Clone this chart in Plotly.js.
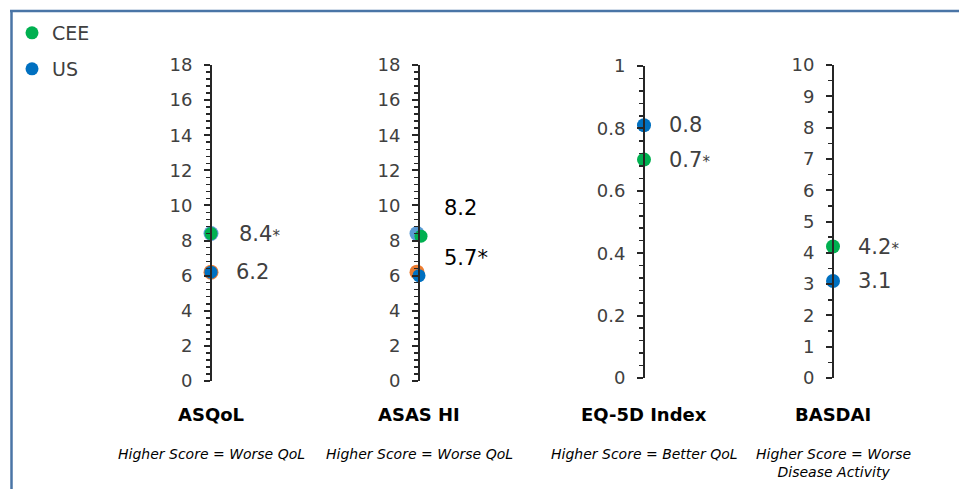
<!DOCTYPE html>
<html>
<head>
<meta charset="utf-8">
<script src="https://cdn.plot.ly/plotly-3.0.1.min.js"></script>
<style>html,body{margin:0;padding:0;background:#fff;}#chart{width:959px;height:489px;}</style>
</head>
<body>
<div id="chart"></div>
<script>
// ---- data ----
var measures = ["ASQoL", "ASAS HI", "EQ-5D Index", "BASDAI"];
var subtitles = ["Higher Score = Worse QoL", "Higher Score = Worse QoL", "Higher Score = Better QoL", "Higher Score = Worse<br>Disease Activity"];
var ceeValues = [8.4, 8.25, 0.70, 4.2];
var usValues = [6.2, 6.0, 0.81, 3.1];
var ceeLabels = ["8.4*", "8.2", "0.7*", "4.2*"];
var usLabels = ["6.2", "5.7*", "0.8", "3.1"];
// hidden series visible only as outlines (from the original slide)
var ghostBlueValues = [8.4, 8.4];
var ghostOrangeValues = [6.2, 6.2];
var axisMax = [18, 18, 1, 10];
var axisDtick = [2, 2, 0.2, 1];
var axisMinor = [0.4, 0.4, 0.04, 0.5];

// ---- style / layout ----
var W = 959, H = 489;
var axisPx = [211, 419, 644, 833];
var topPx = [65, 65, 66, 65];
var botPx = [381, 381, 378, 378];
var green = "#00b050", blue = "#0070c0", ghostBlue = "#5b9bd5", ghostOrange = "#ed7d31";
var gray = "#404040";
var font = "DejaVu Sans, Verdana, sans-serif";

var traces = [];
var layout = {
  width: W, height: H,
  margin: {l: 0, r: 0, t: 0, b: 0, pad: 0},
  paper_bgcolor: "#fff", plot_bgcolor: "rgba(0,0,0,0)",
  showlegend: true,
  font: {family: font, color: gray},
  annotations: [], shapes: [],
  legend: {x: 12/W, y: (H-14)/H, xanchor: "left", yanchor: "top", bgcolor: "rgba(0,0,0,0)",
           font: {size: 19, color: gray, family: font}, itemclick: false, itemwidth: 30},
  legend2: {x: 12/W, y: (H-50)/H, xanchor: "left", yanchor: "top", bgcolor: "rgba(0,0,0,0)",
           font: {size: 19, color: gray, family: font}, itemclick: false, itemwidth: 30}
};

function yf(px) { return (H - px) / H; }

for (var i = 0; i < 4; i++) {
  var xa = "x" + (i ? i + 1 : ""), ya = "y" + (i ? i + 1 : "");
  var xk = "xaxis" + (i ? i + 1 : ""), yk = "yaxis" + (i ? i + 1 : "");
  var ax = axisPx[i];
  layout[xk] = {domain: [(ax - 30) / W, (ax + 110) / W], range: [-30, 110], visible: false, fixedrange: true};
  layout[yk] = {
    domain: [yf(botPx[i]), yf(topPx[i])], range: [0, axisMax[i]],
    anchor: "free", position: ax / W, side: "left",
    showline: true, linecolor: "#262626", linewidth: 2,
    ticks: "outside", ticklen: 6, tickwidth: 2, tickcolor: "#262626",
    ticklabelstandoff: 8,
    dtick: axisDtick[i], tick0: 0, showgrid: false, zeroline: false,
    tickfont: {size: 18, color: gray, family: font},
    minor: {dtick: axisMinor[i], ticks: "outside", ticklen: 4, tickwidth: 1.5, tickcolor: "#262626", showgrid: false},
    automargin: false, fixedrange: true
  };
  // ghost markers
  if (i < 2) {
    var off = i === 0 ? 0 : -2;
    traces.push({type: "scatter", mode: "markers", x: [off], y: [ghostBlueValues[i]], xaxis: xa, yaxis: ya,
      marker: {size: 15, color: ghostBlue}, showlegend: false, hoverinfo: "skip"});
    traces.push({type: "scatter", mode: "markers", x: [off], y: [ghostOrangeValues[i]], xaxis: xa, yaxis: ya,
      marker: {size: 15, color: ghostOrange}, showlegend: false, hoverinfo: "skip"});
  }
  var cx = i === 1 ? 2 : 0;
  traces.push({type: "scatter", mode: "markers", name: "CEE", x: [cx], y: [ceeValues[i]], xaxis: xa, yaxis: ya,
    marker: {size: i < 2 ? 13 : 14, color: green}, showlegend: i === 0, legend: "legend", legendgroup: "cee"});
  traces.push({type: "scatter", mode: "markers", name: "US", x: [0], y: [usValues[i]], xaxis: xa, yaxis: ya,
    marker: {size: i < 2 ? 13 : 14, color: blue}, showlegend: i === 0, legend: "legend2", legendgroup: "us"});

  var lblColor = i === 1 ? "#000" : gray;
  var fmt = function (s, small) {
    return small ? s.replace("*", "<span style='font-size:15px'>*</span>") : s;
  };
  var cShift = i === 1 ? 28 : 0, uShift = i === 1 ? 18 : 0;
  layout.annotations.push({xref: xa, yref: ya, x: 0, y: ceeValues[i], xanchor: "left", yanchor: "middle",
    xshift: i === 0 ? 26 : 23, yshift: cShift, showarrow: false, text: fmt(ceeLabels[i], i !== 1),
    font: {size: 21, color: lblColor, family: font}});
  layout.annotations.push({xref: xa, yref: ya, x: 0, y: usValues[i], xanchor: "left", yanchor: "middle",
    xshift: 23, yshift: uShift, showarrow: false, text: fmt(usLabels[i], i !== 1),
    font: {size: 21, color: lblColor, family: font}});
  // category title & subtitle
  layout.annotations.push({xref: "paper", yref: "paper", x: ax / W, y: yf(414), xanchor: "center", yanchor: "middle",
    showarrow: false, text: "<b>" + measures[i] + "</b>", font: {size: 18, color: "#000", family: font}});
  layout.annotations.push({xref: "paper", yref: "paper", x: ax / W, y: yf(444), xanchor: "center", yanchor: "top",
    showarrow: false, text: "<i>" + subtitles[i] + "</i>", font: {size: 14, color: "#000", family: font}});
}

// frame lines
layout.shapes.push({type: "line", xref: "paper", yref: "paper", x0: 10/W, x1: 1, y0: yf(11), y1: yf(11),
  line: {color: "#4a75a6", width: 2.5}});
layout.shapes.push({type: "line", xref: "paper", yref: "paper", x0: 11.5/W, x1: 11.5/W, y0: yf(10), y1: 0,
  line: {color: "#4a75a6", width: 2.5}});

Plotly.newPlot("chart", traces, layout, {displayModeBar: false, staticPlot: true});
</script>
</body>
</html>
